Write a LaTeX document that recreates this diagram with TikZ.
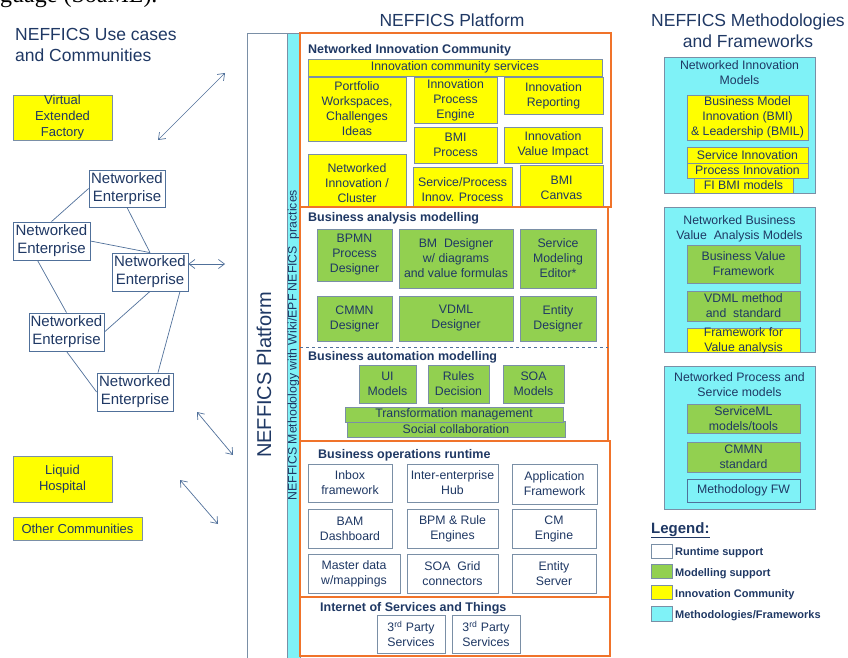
\documentclass[tikz,border=0pt]{standalone}
\usepackage{fontspec}
\setmainfont{Liberation Sans}
\newfontfamily\pageserif{Liberation Serif}
\usetikzlibrary{arrows.meta}

\definecolor{nfnavy}{HTML}{1F3864}
\definecolor{nfedge}{HTML}{7A8FA6}
\definecolor{nflink}{HTML}{50709A}
\definecolor{nforange}{HTML}{F0732A}
\definecolor{nfcyan}{HTML}{7FF2F7}
\definecolor{nfgreen}{HTML}{92D050}
\definecolor{nfyellow}{HTML}{FFFF00}

\begin{document}
\begin{tikzpicture}[
  x=1pt, y=-1pt,
  txt/.style={text=nfnavy, font=\fontsize{12.3}{15}\selectfont, align=center},
  sz/.style 2 args={minimum width=#1pt, minimum height=#2pt},
  bx/.style={txt, draw=nfedge, inner sep=0pt, line width=0.8pt},
  ybx/.style={bx, fill=nfyellow},
  gbx/.style={bx, fill=nfgreen},
  wbx/.style={bx, fill=white},
  cbx/.style={bx, fill=nfcyan},
  nebx/.style={wbx, draw=nflink, font=\fontsize{15}{18}\selectfont},
  grp/.style={draw=nforange, line width=1.6pt, fill=white},
  seclab/.style={anchor=base west, inner sep=0pt, text=nfnavy, font=\bfseries\fontsize{12.5}{14}\selectfont},
  ttl/.style={text=nfnavy, font=\fontsize{17.5}{21}\selectfont, inner sep=0pt},
  legtxt/.style={anchor=base west, inner sep=0pt, text=nfnavy, font=\bfseries\fontsize{11}{13}\selectfont},
  link/.style={draw=nflink, line width=0.7pt},
  dbl/.style={link, <->},
  >={Straight Barb[length=6pt,width=9pt]},
]
\useasboundingbox (0,0) rectangle (848,658);

\node [anchor=base west, inner sep=0pt, font=\pageserif\fontsize{24}{28}\selectfont] (pgfrag) at (0,3) {guage (SoaML).};

\node [ttl, anchor=west, align=left] (ucttl) at (15,45) {NEFFICS Use cases\\and Communities};
\node [ttl] (plttl) at (452,20) {NEFFICS Platform};
\node [ttl, align=center] (mfttl) at (748,31) {NEFFICS Methodologies\\and Frameworks};

\node [ybx, font=\fontsize{13}{16}\selectfont, sz={99}{45}] (vef) at (62.5,117.5) {Virtual\\Extended\\Factory};
\node [nebx, sz={76}{37}] (ne1) at (127,188.5) {Networked\\Enterprise};
\node [nebx, sz={77}{38}] (ne2) at (51.5,241) {Networked\\Enterprise};
\node [nebx, sz={76}{38}] (ne3) at (150,272) {Networked\\Enterprise};
\node [nebx, sz={75}{38}] (ne4) at (66.5,332) {Networked\\Enterprise};
\node [nebx, sz={76}{38}] (ne5) at (135,392) {Networked\\Enterprise};
\node [ybx, font=\fontsize{13}{16}\selectfont, sz={99}{46}] (lqh) at (62.5,479) {Liquid\\Hospital};
\node [ybx, font=\fontsize{13}{16}\selectfont, sz={129}{23}] (othc) at (77.5,528.5) {Other Communities};

\draw [link] (ne1.west) -- (ne2.north);
\draw [link] (ne1.south) -- (ne3.north);
\draw [link] (ne2.east) -- (ne3.north);
\draw [link] ([xshift=-14pt]ne2.south) -- (ne4.north);
\draw [link] (ne3.south) -- (ne4.east);
\draw [link] ([xshift=30pt]ne3.south) -- ([xshift=23pt]ne5.north);
\draw [link] (ne4.south) -- (ne5.west);

\coordinate (a1s) at (158,140);
\coordinate (a1e) at (225,73);
\coordinate (a2e) at (225,264);
\coordinate (a3s) at (197,412);
\coordinate (a3e) at (233,455);
\coordinate (a4s) at (180,480);
\coordinate (a4e) at (218,524);
\draw [dbl] (a1s) -- (a1e);
\draw [dbl] ([yshift=8pt]ne3.east) -- (a2e);
\draw [dbl] (a3s) -- (a3e);
\draw [dbl] (a4s) -- (a4e);

\draw [draw=nfedge, fill=white, line width=0.8pt] (247,33) rectangle (287,670);
\draw [draw=nfedge, fill=nfcyan, line width=0.8pt] (287,33) rectangle (300,670);
\node [ttl, rotate=90, font=\fontsize{20}{24}\selectfont] (plvert) at (264,375) {NEFFICS Platform};
\node [txt, rotate=90, inner sep=0pt] (mthvert) at (293.5,345) {NEFFICS Methodology with Wiki/EPF NEFICS~ practices};

\draw [grp] (300,33) rectangle (611,207);
\node [seclab] (nicl) at (308,53.5) {Networked Innovation Community};
\node [ybx, sz={294}{17}] (ics) at (455,67.5) {Innovation community services};
\node [ybx, sz={98}{64}] (portf) at (357,109) {Portfolio\\Workspaces,\\Challenges\\Ideas};
\node [ybx, sz={83}{46}] (ipe) at (455.5,100) {Innovation\\Process\\Engine};
\node [ybx, sz={99}{37}] (irep) at (553.5,95.5) {Innovation\\Reporting};
\node [ybx, sz={83}{36}] (bmip) at (455.5,145) {BMI\\Process};
\node [ybx, sz={98}{36}] (ivi) at (553,145) {Innovation\\Value Impact};
\node [ybx, sz={98}{57}] (nic) at (357,183) {Networked\\Innovation /\\Cluster};
\node [ybx, sz={99}{44}] (spip) at (462.5,189.5) {Service/Process\\Innov. Process};
\node [ybx, sz={83}{46}] (bmic) at (561.5,188) {BMI\\Canvas};

\draw [grp] (300,207) rectangle (608,441);
\node [seclab] (bal) at (308,221.5) {Business analysis modelling};
\node [gbx, sz={75}{52}] (bpmn) at (354.5,255) {BPMN\\Process\\Designer};
\node [gbx, sz={114}{59}] (bmd) at (456,258.5) {BM~ Designer\\w/ diagrams\\and value formulas};
\node [gbx, sz={76}{59}] (sme) at (558,258.5) {Service\\Modeling\\Editor*};
\node [gbx, sz={75}{45}] (cmmnd) at (354.5,318.5) {CMMN\\Designer};
\node [gbx, sz={114}{45}] (vdmld) at (456,318.5) {VDML\\Designer};
\node [gbx, sz={76}{45}] (entd) at (558,318.5) {Entity\\Designer};
\draw [link, dashed] (300,347) -- (608,347);
\node [seclab] (bauto) at (308,360.5) {Business automation modelling};
\node [gbx, sz={57}{38}] (uim) at (387.5,384) {UI\\Models};
\node [gbx, sz={61}{38}] (rdec) at (458.5,384) {Rules\\Decision};
\node [gbx, sz={61}{38}] (soam) at (533.5,384) {SOA\\Models};
\node [gbx, sz={218}{16}] (soc) at (456,429) {Social collaboration};
\node [gbx, sz={218}{15}] (tfm) at (454,414.5) {Transformation management};

\draw [grp] (300,441) rectangle (610,597);
\node [seclab] (bor) at (318,458.5) {Business operations runtime};
\node [wbx, sz={84}{38}] (inbox) at (350,483) {Inbox\\framework};
\node [wbx, sz={91}{38}] (ieh) at (452.5,483) {Inter-enterprise\\Hub};
\node [wbx, sz={85}{40}] (appf) at (554.5,484) {Application\\Framework};
\node [wbx, sz={84}{39}] (bam) at (350,528.5) {BAM\\Dashboard};
\node [wbx, sz={91}{39}] (bpmre) at (452.5,528.5) {BPM \& Rule\\Engines};
\node [wbx, sz={84}{39}] (cme) at (554,528.5) {CM\\Engine};
\node [wbx, sz={92}{39}] (mdm) at (354,573.5) {Master data\\w/mappings};
\node [wbx, sz={91}{39}] (soag) at (452.5,573.5) {SOA~ Grid\\connectors};
\node [wbx, sz={84}{39}] (ents) at (554,573.5) {Entity\\Server};

\draw [grp] (300,597) rectangle (610,656);
\node [seclab] (iost) at (320,611.5) {Internet of Services and Things};
\node [wbx, sz={68}{38}] (tps1) at (411,634) {3\textsuperscript{rd} Party\\Services};
\node [wbx, sz={68}{38}] (tps2) at (486,634) {3\textsuperscript{rd} Party\\Services};

\node [cbx, sz={151}{136}] (nimbox) at (739.5,125) {};
\node [txt, anchor=north, inner sep=0pt] (nimttl) at (739.5,60) {Networked Innovation\\Models};
\node [ybx, sz={121}{45}] (bmil) at (747.5,117.5) {Business Model\\Innovation (BMI)\\\& Leadership (BMIL)};
\node [ybx, sz={121}{16}] (svin) at (747.5,155) {Service Innovation};
\node [ybx, sz={121}{15}] (prin) at (747.5,170.5) {Process Innovation};
\node [ybx, sz={99}{15}] (fibmi) at (743.5,185.5) {FI BMI models};

\node [cbx, sz={151}{145}] (nbvbox) at (739.5,279.5) {};
\node [txt, anchor=north, inner sep=0pt] (nbvttl) at (739.5,215) {Networked Business\\Value~ Analysis Models};
\node [gbx, sz={113}{38}] (bvf) at (743.5,264) {Business Value\\Framework};
\node [gbx, sz={113}{30}] (vdmlm) at (743.5,306) {VDML method\\and~ standard};
\node [ybx, sz={113}{24}] (fva) at (743.5,340) {};
\begin{scope}
\clip (fva.south west) rectangle (fva.north east);
\node [txt, anchor=north, inner sep=0pt] (fvatxt) at (743.5,327.5) {Framework for\\Value analysis};
\end{scope}

\node [cbx, sz={151}{143}] (npsbox) at (739.5,437.5) {};
\node [txt, anchor=north, inner sep=0pt] (npsttl) at (739.5,372) {Networked Process and\\Service models};
\node [gbx, sz={113}{29}] (sml) at (743.5,418.5) {ServiceML\\models/tools};
\node [gbx, sz={113}{30}] (cmmns) at (743.5,457) {CMMN\\standard};
\node [cbx, draw=nflink, sz={113}{23}] (mfw) at (743.5,490.5) {Methodology FW};

\node [anchor=base west, inner sep=0pt, text=nfnavy, font=\bfseries\fontsize{15}{18}\selectfont] (legttl) at (651,533) {\underline{Legend:}};
\node [wbx, sz={21}{14}] (lgw) at (661.5,551) {};
\node [gbx, sz={21}{14}] (lgg) at (661.5,571) {};
\node [ybx, sz={21}{14}] (lgy) at (661.5,592) {};
\node [cbx, sz={21}{15}] (lgc) at (661.5,613.5) {};
\node [legtxt] (lgwt) at (675,555.5) {Runtime support};
\node [legtxt] (lggt) at (675,576) {Modelling support};
\node [legtxt] (lgyt) at (675,597) {Innovation Community};
\node [legtxt] (lgct) at (675,618) {Methodologies/Frameworks};

\end{tikzpicture}
\end{document}
